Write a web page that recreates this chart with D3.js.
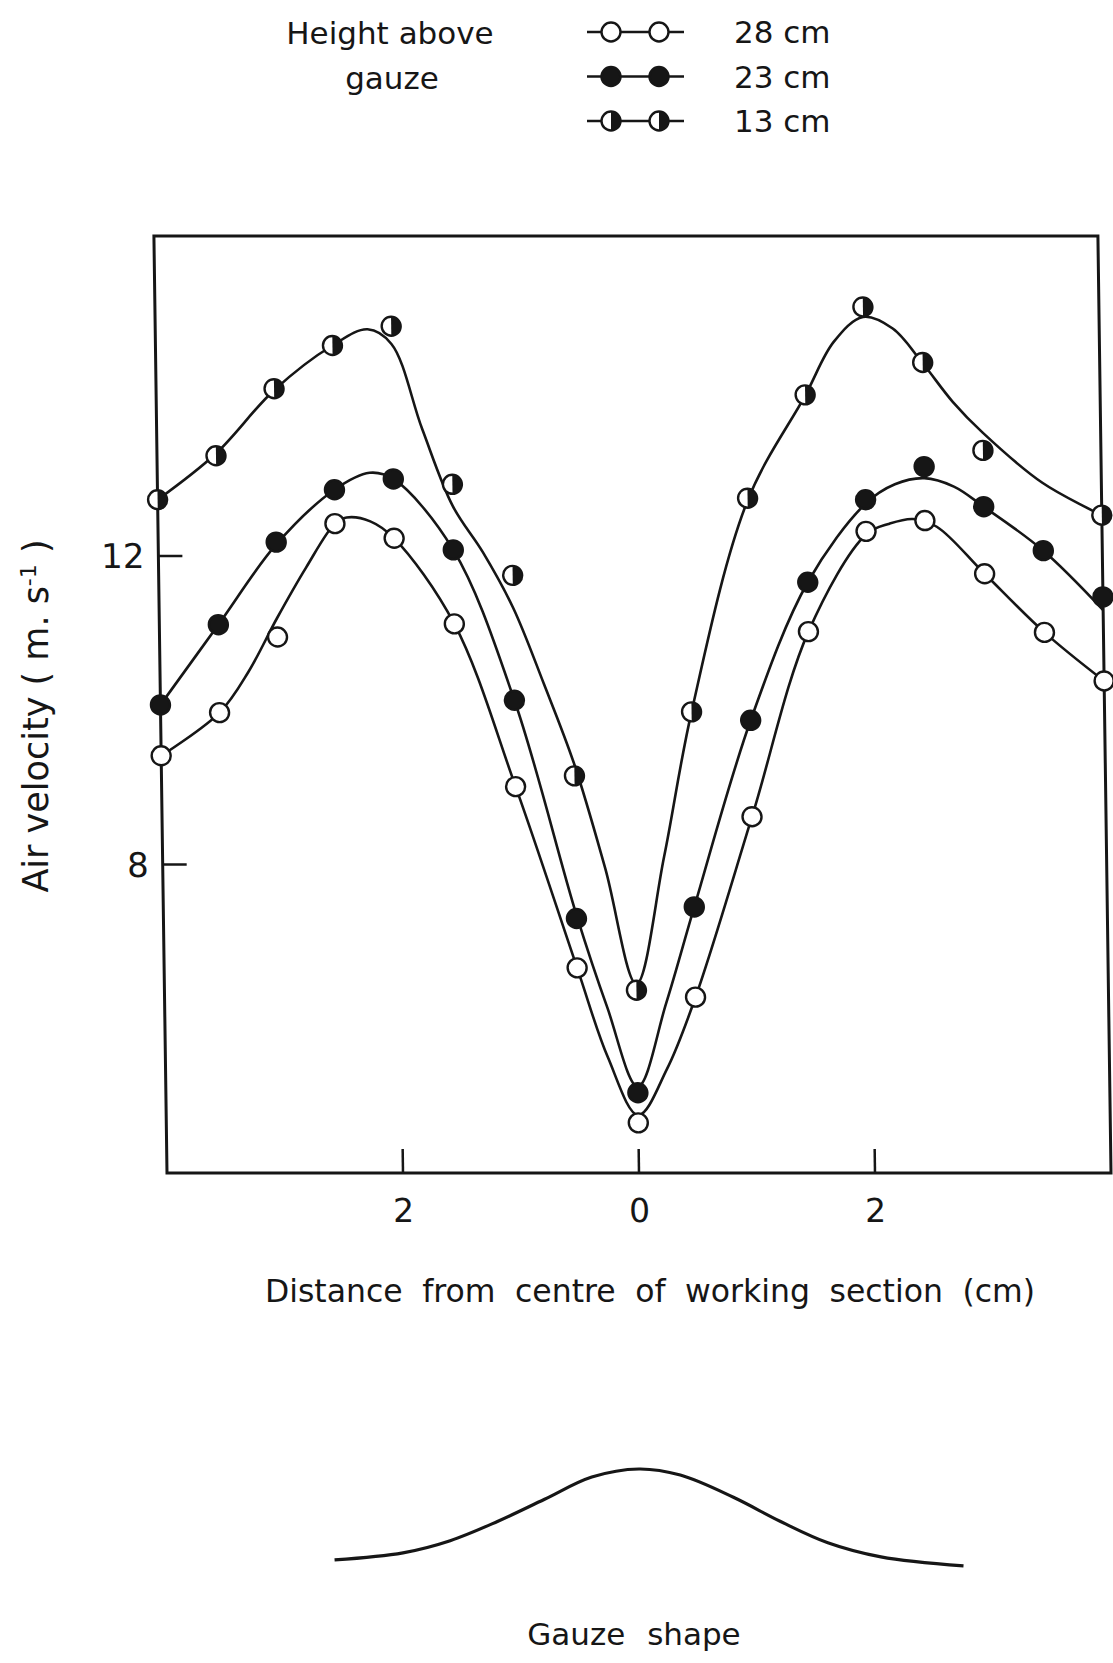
<!DOCTYPE html>
<html><head><meta charset="utf-8">
<script src="https://cdn.jsdelivr.net/npm/d3@7"></script>
<style>
body{margin:0;background:#fff}
text{font-family:"DejaVu Sans",sans-serif;fill:#161616}
</style>
</head><body>
<svg id="chart" width="1113" height="1663"></svg>
<script>
// ---- measured points (distance from centre, cm ; air velocity, m/s) ----
const xPositions = [-4,-3.5,-3,-2.5,-2,-1.5,-1,-0.5,0,0.5,1,1.5,2,2.5,3,3.5,4];
const v28 = [9.41,9.97,10.95,12.42,12.23,11.12,9.01,6.66,4.65,6.28,8.62,11.02,12.32,12.46,11.77,11.01,10.38];
const v23 = [10.07,11.11,12.18,12.86,13.00,12.08,10.13,7.30,5.04,7.45,9.87,11.66,12.73,13.16,12.64,12.07,11.47];
const x13 = [-4,-3.5,-3,-2.5,-2,-1.5,-1,-0.5,0,0.5,1,1.5,2,2.5,3,4];
const v13 = [12.73,13.30,14.17,14.73,14.98,12.93,11.75,9.15,6.37,9.98,12.75,14.09,15.23,14.51,13.37,12.53];

// ---- hand-drawn smooth curves ----
const fitX28 = [-4,-3.5,-3.25,-3,-2.75,-2.5,-2.4,-2.2,-2,-1.5,-1,-0.5,-0.25,0,0.25,0.5,1,1.5,2,2.2,2.4,2.6,3,3.5,4];
const fitV28 = [9.41,9.97,10.50,11.20,11.85,12.42,12.50,12.45,12.23,11.12,9.01,6.66,5.50,4.75,5.35,6.28,8.62,11.02,12.28,12.42,12.48,12.38,11.77,11.01,10.38];
const fitX23 = [-4,-3.5,-3,-2.5,-2.2,-2,-1.5,-1,-0.5,-0.25,0,0.25,0.5,1,1.5,2,2.25,2.5,2.75,3,3.5,4];
const fitV23 = [10.07,11.11,12.15,12.86,13.08,13.0,12.08,10.13,7.35,6.15,5.12,6.2,7.45,9.87,11.66,12.68,12.93,13.01,12.9,12.64,12.07,11.30];
const fitX13 = [-4,-3.5,-3,-2.5,-2.2,-2,-1.75,-1.5,-1.25,-1,-0.75,-0.5,-0.25,0,0.25,0.5,1,1.5,1.75,2,2.25,2.5,2.75,3,3.5,4];
const fitV13 = [12.73,13.33,14.15,14.73,14.94,14.75,13.65,12.65,12.05,11.33,10.35,9.3,7.95,6.45,8.1,9.98,12.72,14.08,14.78,15.10,14.95,14.5,14.0,13.6,12.95,12.53];

// ---- gauze profile (cm ; relative height) ----
const gauzeX = [-2.58,-2.0,-1.6,-1.2,-0.8,-0.4,0,0.35,0.8,1.2,1.6,2.05,2.75];
const gauzeH = [0.10,0.17,0.29,0.48,0.70,0.92,1.0,0.94,0.72,0.48,0.27,0.13,0.04];

// ---- ticks and labels ----
const xTicks = [-2,0,2];
const xTickLabels = ["2","0","2"];
const yTicks = [8,12];
const legendLabels = ["28 cm","23 cm","13 cm"];
const legendStyles = ["open","filled","half"];

const svg = d3.select("#chart");
const L = 167, R = 1111, T = 236, B = 1173;
const x = d3.scaleLinear().domain([-4,4]).range([L,R]);
const y = d3.scaleLinear().domain([4,16.15]).range([B,T]);
const ink = "#161616";

// the scanned figure is slightly sheared: apply the same small skew to the plot
const plot = svg.append("g")
  .attr("transform",`translate(0,${B}) skewX(0.8) translate(0,${-B})`);

plot.append("rect").attr("x",L).attr("y",T).attr("width",R-L).attr("height",B-T)
  .attr("fill","none").attr("stroke",ink).attr("stroke-width",3);

// inward ticks
plot.selectAll(".xt").data(xTicks).join("line")
  .attr("x1",d=>x(d)).attr("x2",d=>x(d)).attr("y1",B).attr("y2",B-24)
  .attr("stroke",ink).attr("stroke-width",2.5);
plot.selectAll(".xl").data(xTicks).join("text")
  .attr("x",d=>x(d)).attr("y",B+49).attr("text-anchor","middle")
  .attr("font-size",33).text((d,i)=>xTickLabels[i]);
plot.selectAll(".yt").data(yTicks).join("line")
  .attr("x1",L).attr("x2",L+24).attr("y1",d=>y(d)).attr("y2",d=>y(d))
  .attr("stroke",ink).attr("stroke-width",2.5);
plot.selectAll(".yl").data(yTicks).join("text")
  .attr("x",L-14).attr("y",d=>y(d)+12).attr("text-anchor","end")
  .attr("font-size",34).text(d=>d);

const line = d3.line().x(d=>x(d[0])).y(d=>y(d[1])).curve(d3.curveCatmullRom.alpha(0.5));
[[fitX28,fitV28],[fitX23,fitV23],[fitX13,fitV13]].forEach(([xs,vs])=>{
  plot.append("path").attr("d",line(xs.map((d,i)=>[d,vs[i]])))
    .attr("fill","none").attr("stroke",ink).attr("stroke-width",2.6);
});

const r = 9.5;
function marker(g, style){
  g.append("circle").attr("r",r).attr("fill",style==="filled"?ink:"#fff")
    .attr("stroke",ink).attr("stroke-width",2.4);
  if(style==="half"){
    g.append("path").attr("d",`M0,${-r} A${r},${r} 0 0 1 0,${r} Z`).attr("fill",ink);
  }
}
function drawSeries(xs, vs, style){
  xs.forEach((d,i)=>{
    const g = plot.append("g").attr("transform",`translate(${x(d)},${y(vs[i])})`);
    marker(g, style);
  });
}
drawSeries(xPositions, v28, "open");
drawSeries(xPositions, v23, "filled");
drawSeries(x13, v13, "half");

// axis titles
svg.append("text").attr("x",650).attr("y",1302).attr("text-anchor","middle")
  .attr("font-size",31.5).attr("word-spacing",9.5)
  .text("Distance from centre of working section (cm)");
const yt = svg.append("text").attr("transform","translate(48,716) rotate(-90)")
  .attr("text-anchor","middle").attr("font-size",35);
yt.append("tspan").text("Air velocity ( m. s");
yt.append("tspan").attr("baseline-shift","super").attr("font-size",22).text("-1");
yt.append("tspan").text(" )");

// legend
svg.append("text").attr("x",390).attr("y",44).attr("text-anchor","middle").attr("font-size",31).text("Height above");
svg.append("text").attr("x",392).attr("y",89).attr("text-anchor","middle").attr("font-size",31).text("gauze");
const ly = d3.scalePoint().domain(legendLabels).range([32,121]);
legendLabels.forEach((lab,i)=>{
  const yy = ly(lab);
  svg.append("line").attr("x1",587).attr("x2",684).attr("y1",yy).attr("y2",yy)
    .attr("stroke",ink).attr("stroke-width",2.4);
  [611,659].forEach(cx=>{
    const g = svg.append("g").attr("transform",`translate(${cx},${yy})`);
    marker(g, legendStyles[i]);
  });
  svg.append("text").attr("x",734).attr("y",yy+11).attr("font-size",31).text(lab);
});

// gauze shape
const gy = d3.scaleLinear().domain([0,1]).range([1570,1469]);
const gline = d3.line().x(d=>x(d[0])).y(d=>gy(d[1])).curve(d3.curveCatmullRom.alpha(0.5));
svg.append("path").attr("d",gline(gauzeX.map((d,i)=>[d,gauzeH[i]])))
  .attr("fill","none").attr("stroke",ink).attr("stroke-width",3.2);
svg.append("text").attr("x",634).attr("y",1645).attr("text-anchor","middle")
  .attr("font-size",31).attr("word-spacing",12).text("Gauze shape");
</script>
</body></html>
